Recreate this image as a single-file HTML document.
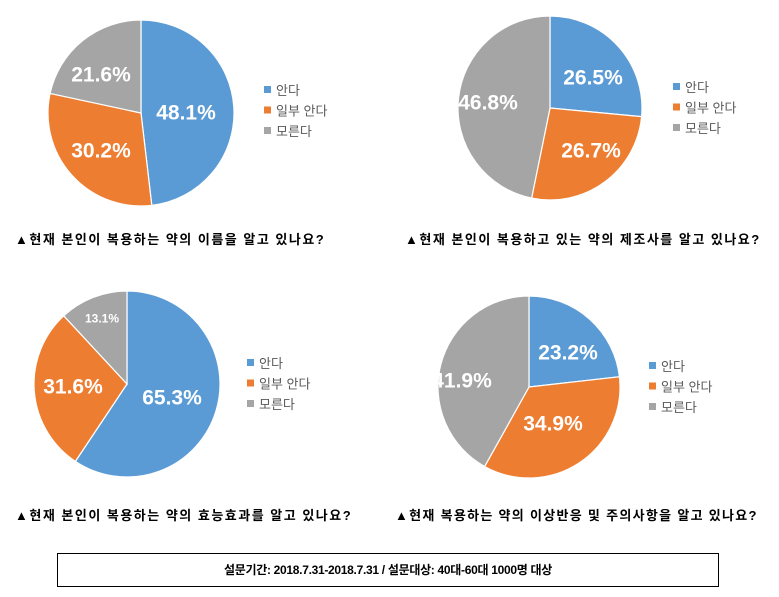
<!DOCTYPE html>
<html><head><meta charset="utf-8"><style>
body{margin:0;background:#fff;width:779px;height:597px;overflow:hidden;position:relative;font-family:"Liberation Sans","Noto Sans CJK KR",sans-serif}
svg{position:absolute;left:0;top:0}
.t{position:absolute;font-size:13px;font-weight:bold;color:#000;white-space:nowrap;letter-spacing:1.5px}
.box{position:absolute;left:57px;top:553px;width:660px;height:32px;border:1.5px solid #000;text-align:center;line-height:32px;font-size:12px;font-weight:bold;letter-spacing:-0.3px}
</style></head><body>
<svg width="779" height="597" id="s"></svg>
<div class="t" style="left:15px;top:229px">▲현재 본인이 복용하는 약의 이름을 알고 있나요?</div>
<div class="t" style="left:405px;top:229px">▲현재 본인이 복용하고 있는 약의 제조사를 알고 있나요?</div>
<div class="t" style="left:15px;top:505px">▲현재 본인이 복용하는 약의 효능효과를 알고 있나요?</div>
<div class="t" style="left:395px;top:505px;letter-spacing:1.3px">▲현재 복용하는 약의 이상반응 및 주의사항을 알고 있나요?</div>
<div class="box">설문기간: 2018.7.31-2018.7.31 / 설문대상: 40대-60대 1000명 대상</div>
<script>
var s=document.getElementById('s'),h='';
var C=['#5B9BD5','#ED7D31','#A5A5A5'],N=['안다','일부 안다','모른다'];
var P=[
 {cx:141,cy:113,r:93,v:[48.1,30.2,21.6],L:[[186,112,21],[101,150,21],[101,74,21]],lx:267,ly:90},
 {cx:550,cy:108,r:92,v:[26.5,26.7,46.8],L:[[593,77,21],[591,150,21],[488,102,21]],lx:676,ly:87},
 {cx:127,cy:384,r:93,v:[65.3,31.6,13.1],L:[[172,397,21],[73,386,21],[102,318,12]],lx:250,ly:363},
 {cx:529,cy:387,r:91,v:[23.2,34.9,41.9],L:[[568,352,21],[553,423,21],[462,380,21]],lx:652,ly:366}];
P.forEach(function(p){
 var a=0,tot=p.v[0]+p.v[1]+p.v[2];
 p.v.forEach(function(v,i){
  var a1=a+v/tot*2*Math.PI;
  var x0=p.cx+p.r*Math.sin(a),y0=p.cy-p.r*Math.cos(a),x1=p.cx+p.r*Math.sin(a1),y1=p.cy-p.r*Math.cos(a1);
  h+='<path d="M'+p.cx+' '+p.cy+'L'+x0+' '+y0+'A'+p.r+' '+p.r+' 0 '+(a1-a>Math.PI?1:0)+' 1 '+x1+' '+y1+'Z" fill="'+C[i]+'" stroke="#fff" stroke-width="1.2"/>';
  a=a1;
 });
 p.v.forEach(function(v,i){var l=p.L[i];
  h+='<text x="'+l[0]+'" y="'+(l[1]+l[2]*0.36)+'" text-anchor="middle" fill="#fff" font-weight="bold" font-size="'+l[2]+'" font-family="Liberation Sans,sans-serif">'+v.toFixed(1)+'%</text>';
  h+='<rect x="'+(p.lx-3)+'" y="'+(p.ly+i*20.5-4)+'" width="7" height="7" fill="'+C[i]+'"/>';
  h+='<text x="'+(p.lx+9)+'" y="'+(p.ly+i*20.5+5)+'" fill="#595959" font-size="13" font-family="Liberation Sans,Noto Sans CJK KR,sans-serif">'+N[i]+'</text>';
 });
});
s.innerHTML=h;
</script>
</body></html>
